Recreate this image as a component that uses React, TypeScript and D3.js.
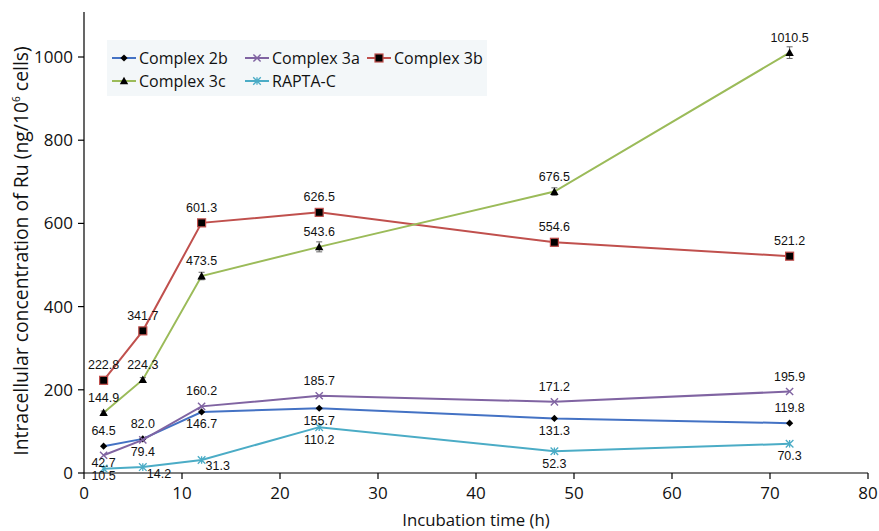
import React from "react";
import * as d3 from "d3";

const times = [2, 6, 12, 24, 48, 72];
const seriesNames = ["Complex 2b", "Complex 3a", "Complex 3b", "Complex 3c", "RAPTA-C"];
const complex2b = [64.5, 82.0, 146.7, 155.7, 131.3, 119.8];
const complex3a = [42.7, 79.4, 160.2, 185.7, 171.2, 195.9];
const complex3b = [222.8, 341.7, 601.3, 626.5, 554.6, 521.2];
const complex3c = [144.9, 224.3, 473.5, 543.6, 676.5, 1010.5];
const raptaC = [10.5, 14.2, 31.3, 110.2, 52.3, 70.3];
const err3b = [4, 5, 6, 6, 9, 6];
const err3c = [4, 5, 9, 12, 9, 14];
const xTicks = [0, 10, 20, 30, 40, 50, 60, 70, 80];
const yTicks = [0, 200, 400, 600, 800, 1000];

// label placement per point: "a" above, "b" below, "n" just below, "r" right-below
const pos2b = ["a", "a", "b", "b", "b", "a"];
const pos3a = ["n", "b", "a", "a", "a", "a"];
const pos3b = ["a", "a", "a", "a", "a", "a"];
const pos3c = ["a", "a", "a", "a", "a", "a"];
const posRC = ["n", "r", "r", "b", "b", "b"];

const W = 879, H = 531;
const x = d3.scaleLinear().domain([0, 80]).range([84, 868]);
const y = d3.scaleLinear().domain([0, 1100]).range([473, 15.4]);

const colors = ["#4472c4", "#8064a2", "#c0504d", "#9bbb59", "#4bacc6"];

function Marker({ kind, cx, cy, color }: { kind: number; cx: number; cy: number; color: string }) {
  if (kind === 0) {
    const s = 3.6;
    return <path d={`M${cx},${cy - s}L${cx + s},${cy}L${cx},${cy + s}L${cx - s},${cy}Z`} fill="#000" />;
  }
  if (kind === 1) {
    const s = 3.6;
    return <path d={`M${cx - s},${cy - s}L${cx + s},${cy + s}M${cx - s},${cy + s}L${cx + s},${cy - s}`} stroke={color} strokeWidth={1.4} />;
  }
  if (kind === 2) {
    return <rect x={cx - 4} y={cy - 4} width={8} height={8} fill="#000" stroke={color} strokeWidth={1.2} />;
  }
  if (kind === 3) {
    const s = 4.2;
    return <path d={`M${cx},${cy - s}L${cx + s},${cy + s * 0.8}L${cx - s},${cy + s * 0.8}Z`} fill="#000" />;
  }
  const s = 3.8;
  return (
    <path
      d={`M${cx - s},${cy - s}L${cx + s},${cy + s}M${cx - s},${cy + s}L${cx + s},${cy - s}M${cx},${cy - s}L${cx},${cy + s}`}
      stroke={color}
      strokeWidth={1.3}
    />
  );
}

export default function App() {
  const data = [complex2b, complex3a, complex3b, complex3c, raptaC];
  const positions = [pos2b, pos3a, pos3b, pos3c, posRC];
  const errs: (number[] | null)[] = [null, null, err3b, err3c, null];
  const line = d3
    .line<number>()
    .x((_, i) => x(times[i]))
    .y((d) => y(d));
  const labelFont = "'Liberation Sans', Arial, sans-serif";
  const axisFont = "'Open Sans', sans-serif";

  const legendItems = [
    { i: 0, lx: 112, ly: 58 },
    { i: 1, lx: 245, ly: 58 },
    { i: 2, lx: 367, ly: 58 },
    { i: 3, lx: 112, ly: 81 },
    { i: 4, lx: 245, ly: 81 },
  ];

  return (
    <svg width={W} height={H} style={{ position: "absolute", left: 0, top: 0, background: "#fff" }}>
      <rect width={W} height={H} fill="#fff" />
      {/* axes */}
      <line x1={84} x2={84} y1={12} y2={473} stroke="#000" strokeWidth={1.2} />
      <line x1={84} x2={868} y1={473} y2={473} stroke="#000" strokeWidth={1.2} />
      {yTicks.map((t) => (
        <g key={"y" + t}>
          <line x1={78} x2={84} y1={y(t)} y2={y(t)} stroke="#000" strokeWidth={1.2} />
          <text x={73} y={y(t)} dy="0.35em" textAnchor="end" fontFamily={axisFont} fontSize={17} fill="#111">
            {t}
          </text>
        </g>
      ))}
      {xTicks.map((t) => (
        <g key={"x" + t}>
          <line x1={x(t)} x2={x(t)} y1={473} y2={479} stroke="#000" strokeWidth={1.2} />
          <text x={x(t)} y={499} textAnchor="middle" fontFamily={axisFont} fontSize={17} fill="#111">
            {t}
          </text>
        </g>
      ))}
      <text x={476} y={526} textAnchor="middle" fontFamily={axisFont} fontSize={16.8} fill="#111">
        Incubation time (h)
      </text>
      <text
        transform="translate(28,251) rotate(-90)"
        textAnchor="middle"
        fontFamily={axisFont}
        fontSize={19.4}
        fill="#111"
      >
        Intracellular concentration of Ru (ng/10
        <tspan dy={-8} fontSize={10}>6</tspan>
        <tspan dy={8}> cells)</tspan>
      </text>

      {/* series */}
      {data.map((vals, si) => (
        <g key={"s" + si}>
          <path d={line(vals) || ""} fill="none" stroke={colors[si]} strokeWidth={2} />
          {errs[si] &&
            vals.map((v, i) => {
              const e = (errs[si] as number[])[i];
              const cx = x(times[i]);
              return (
                <g key={"e" + i} stroke="#666" strokeWidth={1}>
                  <line x1={cx} x2={cx} y1={y(v - e)} y2={y(v + e)} />
                  <line x1={cx - 3} x2={cx + 3} y1={y(v - e)} y2={y(v - e)} />
                  <line x1={cx - 3} x2={cx + 3} y1={y(v + e)} y2={y(v + e)} />
                </g>
              );
            })}
          {vals.map((v, i) => (
            <Marker key={"m" + i} kind={si} cx={x(times[i])} cy={y(v)} color={colors[si]} />
          ))}
        </g>
      ))}
      {/* data labels */}
      {data.map((vals, si) =>
        vals.map((v, i) => {
          const p = positions[si][i];
          const cx = x(times[i]);
          const cy = y(v);
          let tx = cx, ty = cy - 11, anchor: "middle" | "start" = "middle";
          if (p === "b") ty = cy + 16.5;
          if (p === "n") ty = cy + 11.5;
          if (p === "r") {
            tx = cx + 4;
            ty = cy + 10.5;
            anchor = "start";
          }
          return (
            <text key={"l" + si + "-" + i} x={tx} y={ty} textAnchor={anchor} fontFamily={labelFont} fontSize={12.5} fill="#111">
              {v.toFixed(1)}
            </text>
          );
        })
      )}

      {/* legend */}
      <rect x={107} y={40} width={380} height={56} fill="#f3f7f9" />
      {legendItems.map(({ i, lx, ly }) => (
        <g key={"lg" + i}>
          <line x1={lx} x2={lx + 24} y1={ly} y2={ly} stroke={colors[i]} strokeWidth={2} />
          <Marker kind={i} cx={lx + 12} cy={ly} color={colors[i]} />
          <text x={lx + 27} y={ly} dy="0.35em" fontFamily={axisFont} fontSize={16} fill="#111">
            {seriesNames[i]}
          </text>
        </g>
      ))}
    </svg>
  );
}
